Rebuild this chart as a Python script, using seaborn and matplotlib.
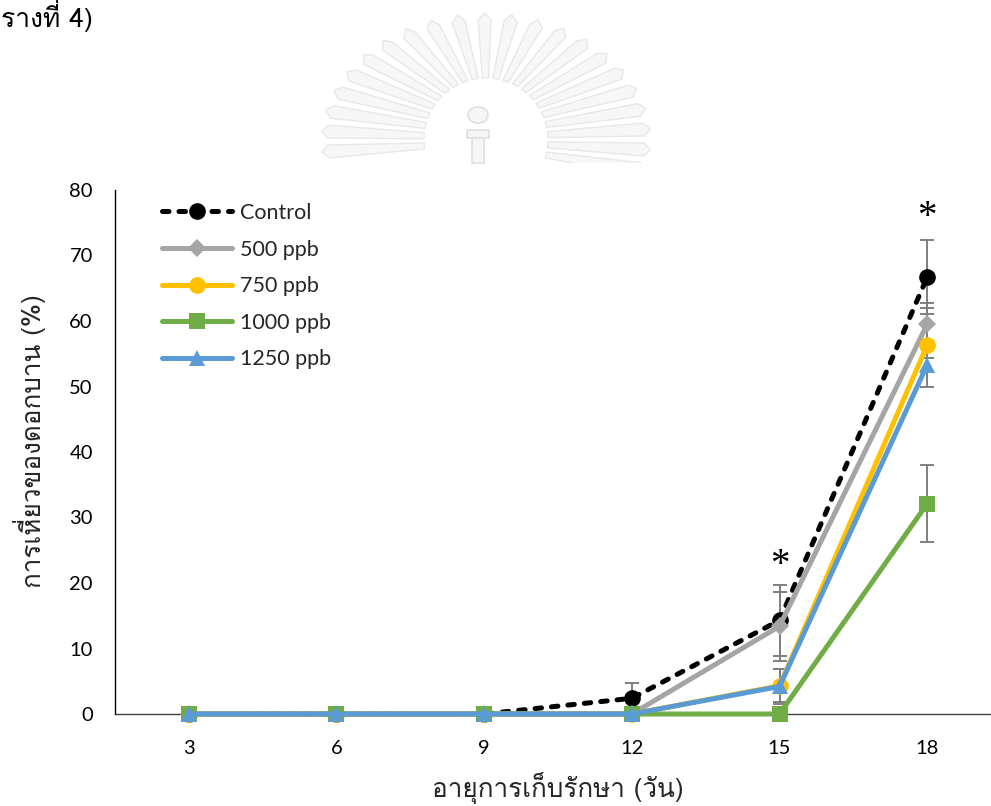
import numpy as np
import pandas as pd
import matplotlib
matplotlib.use("Agg")
import matplotlib.pyplot as plt
import seaborn as sns
from matplotlib import font_manager, ft2font
from matplotlib.patches import Rectangle, Circle, Polygon

# ---- data -------------------------------------------------------------
days = [3, 6, 9, 12, 15, 18]
series = ["Control", "500 ppb", "750 ppb", "1000 ppb", "1250 ppb"]

control = [0, 0, 0, 2.4, 14.3, 66.7]
ppb500 = [0, 0, 0, 0, 13.4, 59.5]
ppb750 = [0, 0, 0, 0, 4.3, 56.3]
ppb1000 = [0, 0, 0, 0, 0, 32.1]
ppb1250 = [0, 0, 0, 0, 4.2, 53.3]

err_control = [0, 0, 0, 2.3, 5.4, 5.7]
err_500 = [0, 0, 0, 0, 5.3, 2.5]
err_750 = [0, 0, 0, 0, 2.5, 6.4]
err_1000 = [0, 0, 0, 0, 0, 5.9]
err_1250 = [0, 0, 0, 0, 2.6, 1.0]

star_days = [15, 18]
star_heights = [22.6, 75.8]

y_ticks = [0, 10, 20, 30, 40, 50, 60, 70, 80]

xlabel = "อายุการเก็บรักษา (วัน)"
ylabel = "การเหี่ยวของดอกบาน (%)"
caption = "รางที่ 4)"

colors = {"Control": "#000000", "500 ppb": "#A5A5A5", "750 ppb": "#FFC000",
          "1000 ppb": "#70AD47", "1250 ppb": "#5B9BD5"}
markers = {"Control": "o", "500 ppb": "D", "750 ppb": "o",
           "1000 ppb": "s", "1250 ppb": "^"}
dashes = {"Control": (1.3, 2.0), "500 ppb": "", "750 ppb": "",
          "1000 ppb": "", "1250 ppb": ""}

values = [control, ppb500, ppb750, ppb1000, ppb1250]
errors = [err_control, err_500, err_750, err_1000, err_1250]

df = pd.DataFrame({
    "day": np.tile(days, len(series)),
    "value": np.concatenate(values),
    "series": np.repeat(series, len(days)),
})


def thai_family():
    """First installed family that has Thai glyphs."""
    for f in font_manager.fontManager.ttflist:
        try:
            ft = ft2font.FT2Font(f.fname)
            if ft.get_char_index(ord("ก")) and ft.get_char_index(ord("ี")):
                return f.name
        except Exception:
            continue
    return "DejaVu Sans"


sns.set_style("white")
plt.rcParams["font.family"] = ["Lato", "DejaVu Sans"]
THAI = thai_family()

W, H = 991, 806
fig = plt.figure(figsize=(W / 100, H / 100), dpi=100)


def fx(x):
    return x / W


def fy(y):
    return 1 - y / H


# ---- faint emblem watermark behind the chart ---------------------------
clip = Rectangle((0, fy(163)), 1, 1, transform=fig.transFigure,
                 facecolor="none", edgecolor="none")
fig.add_artist(clip)
cx, cy = 486, 140
for a in np.arange(-14, 195, 9.5):
    t = np.deg2rad(a)
    ux, uy = np.cos(t), -np.sin(t)          # outward (pixel coords, y down)
    px, py = -uy, ux                        # perpendicular
    r_in, rx_out, ry_out = 62, 158, 120
    ix, iy = cx + r_in * ux, cy + r_in * uy
    ox, oy = cx + rx_out * ux, cy + ry_out * uy
    w_in, w_out = 3.0, 6.5
    tipx, tipy = ox + 7 * ux, oy + 7 * uy
    pts = [(ix + w_in * px, iy + w_in * py), (ox + w_out * px, oy + w_out * py),
           (tipx, tipy),
           (ox - w_out * px, oy - w_out * py), (ix - w_in * px, iy - w_in * py)]
    ray = Polygon([(fx(x), fy(y)) for x, y in pts], closed=True,
                  transform=fig.transFigure, facecolor="#f7f7f7",
                  edgecolor="#e8e8e8", lw=1.0)
    ray.set_clip_path(clip)
    fig.add_artist(ray)
lamp = Circle((fx(478), fy(115)), 10 / W, transform=fig.transFigure,
              facecolor="#f6f6f6", edgecolor="#e0e0e0", lw=1.2)
fig.add_artist(lamp)
collar = Rectangle((fx(467), fy(138)), 22 / W, 8 / H, transform=fig.transFigure,
                   facecolor="#f6f6f6", edgecolor="#e0e0e0", lw=1.2)
fig.add_artist(collar)
stem = Rectangle((fx(472), fy(163)), 12 / W, 25 / H, transform=fig.transFigure,
                 facecolor="#f6f6f6", edgecolor="#e0e0e0", lw=1.2)
fig.add_artist(stem)

fig.text(fx(1), fy(15), caption, ha="left", va="center", fontsize=19,
         family=[THAI, "DejaVu Sans"], fontweight="light", color="#000000")

# ---- chart -------------------------------------------------------------
ax = fig.add_axes([fx(115), fy(714), 886 / W, 524 / H])
ax.set_facecolor("white")

sns.lineplot(data=df, x="day", y="value", hue="series", style="series",
             hue_order=series, style_order=series, palette=colors,
             markers=markers, dashes=dashes, linewidth=3.6, markersize=12,
             markeredgewidth=0, errorbar=None, ax=ax, legend=False)
series_lines = list(ax.lines)
for ln in series_lines:
    ln.set_clip_on(False)
    ln.set_zorder(3)
    if ln.get_marker() == "D":
        ln.set_markersize(9)
series_lines[0].set_dash_capstyle("round")

for vals, errs in zip(values, errors):
    sel = [i for i, e in enumerate(errs) if e > 0]
    if sel:
        ax.errorbar([days[i] for i in sel], [vals[i] for i in sel],
                    yerr=[errs[i] for i in sel], fmt="none", ecolor="#7F7F7F",
                    elinewidth=1.4, capsize=4.8, capthick=1.4, zorder=1.5)

for d, h in zip(star_days, star_heights):
    ax.text(d, h, "*", ha="center", va="center", fontsize=28,
            family="Liberation Serif", color="#000000")

ax.set_xlim(1.5, 19.5)
ax.set_ylim(0, 80)
ax.set_xticks(days)
ax.set_xticklabels([str(d) for d in days])
ax.set_yticks(y_ticks)
ax.tick_params(axis="both", length=0, labelsize=14.5, colors="#000000")
ax.tick_params(axis="y", pad=16)
ax.tick_params(axis="x", pad=19)

for s in ("top", "right"):
    ax.spines[s].set_visible(False)
ax.spines["left"].set_color("#000000")
ax.spines["left"].set_linewidth(1.0)
ax.spines["bottom"].set_color("#404040")
ax.spines["bottom"].set_linewidth(1.0)
ax.grid(False)

ax.set_xlabel(xlabel, fontsize=18.8, family=[THAI, "DejaVu Sans"],
              fontweight="light")
ax.set_ylabel(ylabel, fontsize=18.8, family=[THAI, "DejaVu Sans"],
              fontweight="light")
ax.xaxis.set_label_coords(0.5, (714 - 788) / 524)
ax.yaxis.set_label_coords((30 - 115) / 886, (714 - 441) / 524)
ax.xaxis.label.set_va("center")
ax.yaxis.label.set_va("center")

ax.legend(series_lines, series, loc="upper left",
          bbox_to_anchor=((162 - 115) / 886, (714 - 203) / 524),
          frameon=False, fontsize=15.5, handlelength=3.25, handletextpad=0.38,
          labelspacing=0.77, borderaxespad=0, borderpad=0, numpoints=1)

fig.savefig("out.png", dpi=100, facecolor="white")
